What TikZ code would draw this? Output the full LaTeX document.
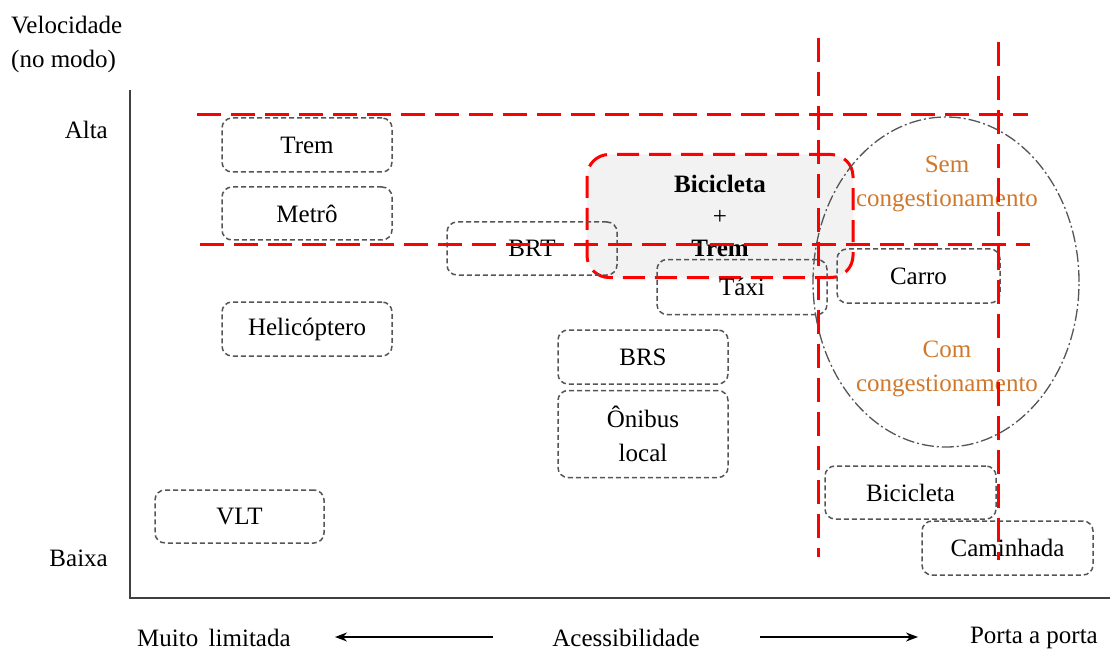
\documentclass[tikz,border=0pt]{standalone}
\usepackage{fontspec}
\setmainfont{Liberation Serif}
\usetikzlibrary{arrows.meta,shapes.geometric}
\definecolor{boxgray}{HTML}{555555}
\definecolor{fillgray}{HTML}{F2F2F2}
\definecolor{orangetxt}{HTML}{D0782C}
\definecolor{redline}{HTML}{FF0000}
\tikzset{
  mode/.style={draw=boxgray, line width=1.5pt, dash pattern=on 5pt off 3pt, rounded corners=10pt,
    inner sep=0pt, align=center, font=\fontsize{25}{34}\selectfont},
  redd/.style={draw=redline, line width=3pt, dash pattern=on 24pt off 10pt},
  lbl/.style={inner sep=0pt, font=\fontsize{25}{34}\selectfont},
  orl/.style={lbl, text=orangetxt, align=center},
}
\begin{document}
\begin{tikzpicture}[x=1pt,y=-1pt]
\useasboundingbox (0,0) rectangle (1110,652);
% highlighted combination
\node[draw=redline, fill=fillgray, line width=3pt, dash pattern=on 22pt off 10pt, rounded corners=22pt,
  minimum width=266pt, minimum height=123pt, inner sep=0pt, align=center,
  font=\fontsize{25}{32}\selectfont\bfseries] (bt) at (720,216) {Bicicleta\\\normalfont +\\Trem};
% ellipse
\node[draw=boxgray, line width=1.3pt, dash pattern=on 12pt off 3pt on 2pt off 3pt, ellipse,
  minimum width=266pt, minimum height=330pt, inner sep=0pt] (ell) at (946,282) {};
% axes
\coordinate (ytop) at (130,90);
\coordinate (o) at (130,598);
\coordinate (xend) at (1110,598);
\draw[line width=1.4pt, draw=black!75] (ytop) -- (o) -- (xend);
% axis labels
\node[lbl, align=left, anchor=west] (vel) at (11,44) {Velocidade\\(no modo)};
\node[lbl, anchor=east] (alta) at (108,130) {Alta};
\node[lbl, anchor=east] (baixa) at (108,558) {Baixa};
\node[lbl, anchor=west] (muito) at (137,638) {Muito\, limitada};
\node[lbl] (acess) at (626,638) {Acessibilidade};
\node[lbl, anchor=east] (porta) at (1098,638) {Porta a porta};
\coordinate (la1) at (493,637);
\coordinate (la2) at (335,637);
\coordinate (ra1) at (760,637);
\coordinate (ra2) at (918,637);
\draw[line width=1.4pt, -{Stealth[length=12pt,width=9pt]}] (la1) -- (la2);
\draw[line width=1.4pt, -{Stealth[length=12pt,width=9pt]}] (ra1) -- (ra2);
% modes
\node[mode, minimum width=170pt, minimum height=54pt] (trem) at (307,145) {Trem};
\node[mode, minimum width=170pt, minimum height=53pt] (metro) at (307,213.5) {Metrô};
\node[mode, minimum width=170pt, minimum height=54pt] (heli) at (307,329) {Helicóptero};
\node[mode, minimum width=170pt, minimum height=53pt] (brt) at (532,248.5) {BRT};
\node[mode, minimum width=170pt, minimum height=55pt] (taxi) at (742,287) {Táxi};
\node[mode, minimum width=163pt, minimum height=54pt] (carro) at (918.5,276) {Carro};
\node[mode, minimum width=170pt, minimum height=54pt] (brs) at (643,357) {BRS};
\node[mode, minimum width=170pt, minimum height=87pt] (onibus) at (643,434) {Ônibus\\local};
\node[mode, minimum width=169pt, minimum height=53pt] (vlt) at (239.5,516.5) {VLT};
\node[mode, minimum width=171pt, minimum height=53pt] (bici) at (910.5,492.5) {Bicicleta};
\node[mode, minimum width=171pt, minimum height=54pt] (cam) at (1007.5,548) {Caminhada};
% congestion labels
\node[orl] (sem) at (947,184) {Sem\\congestionamento};
\node[orl] (com) at (947,369) {Com\\congestionamento};
% red dashed guide lines
\coordinate (h1a) at (197,115); \coordinate (h1b) at (1028,115);
\coordinate (h2a) at (200,245); \coordinate (h2b) at (1030,245);
\coordinate (v1a) at (818,38); \coordinate (v1b) at (818,557);
\coordinate (v2a) at (998,42); \coordinate (v2b) at (998,560);
\draw[redd] (h1a) -- (h1b);
\draw[redd] (h2a) -- (h2b);
\draw[redd] (v1a) -- (v1b);
\draw[redd] (v2a) -- (v2b);
\end{tikzpicture}
\end{document}
